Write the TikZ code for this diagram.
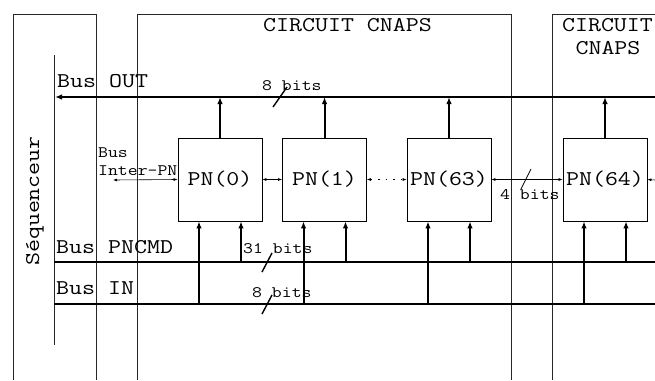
\documentclass[tikz,border=0pt]{standalone}
\usepackage{fontspec}
\setmainfont[FakeStretch=1.2]{Latin Modern Mono}
\usetikzlibrary{arrows.meta}
\tikzset{
  pn/.style={draw, line width=0.8pt, minimum width=84pt, minimum height=83pt, inner sep=0pt, font=\fontsize{21}{22}\selectfont},
  bus/.style={line width=2pt},
  upar/.style={line width=2pt, -{Latex[length=7pt,width=5.5pt]}},
  link/.style={line width=0.6pt, {Latex[length=4pt,width=3pt]}-{Latex[length=4pt,width=3pt]}},
  frame/.style={line width=0.8pt, black!85},
  bitmark/.style={line width=1.4pt},
  big/.style={inner sep=0pt, font=\fontsize{21}{22}\selectfont},
  small/.style={inner sep=0pt, font=\fontsize{16}{17}\selectfont},
}
\begin{document}
\begin{tikzpicture}[x=1pt,y=-1pt]
  \useasboundingbox (0,0) rectangle (655,380);
  % Sequencer and circuit frames
  \draw[frame] (13,380) -- (13,14) -- (96,14) -- (96,380);
  \draw[frame] (137,380) -- (137,14) -- (511,14) -- (511,380);
  \draw[frame] (552,380) -- (552,14) -- (660,14);
  \draw[frame] (54,55) -- (54,345);
  \node[big,rotate=90] (seq) at (35,201) {Séquenceur};
  \node[big,anchor=base] (cn1) at (347.5,31) {CIRCUIT CNAPS};
  \node[big,anchor=base] (cn2a) at (607.5,31) {CIRCUIT};
  \node[big,anchor=base] (cn2b) at (608,54) {CNAPS};
  % Buses
  \coordinate (outL) at (55,97);  \coordinate (outR) at (655,97);
  \coordinate (cmdL) at (54,262); \coordinate (cmdR) at (655,262);
  \coordinate (inL) at (54,304);  \coordinate (inR) at (655,304);
  \draw[bus,-{Latex[length=7pt,width=5.5pt]}] (outR) -- (outL);
  \draw[bus] (cmdL) -- (cmdR);
  \draw[bus] (inL) -- (inR);
  \node[big,anchor=base west] (lout) at (57,87) {Bus OUT};
  \node[big,anchor=base west] (lcmd) at (56,253) {Bus PNCMD};
  \node[big,anchor=base west] (lin) at (56,294) {Bus IN};
  % Processing nodes
  \node[pn] (pn0) at (220,179.5) {PN(0)};
  \node[pn] (pn1) at (324.5,179.5) {PN(1)};
  \node[pn] (pn63) at (449,179.5) {PN(63)};
  \node[pn] (pn64) at (605,179.5) {PN(64)};
  % Outputs to Bus OUT
  \draw[upar] (pn0.north) -- (pn0.north |- outR);
  \draw[upar] (pn1.north) -- (pn1.north |- outR);
  \draw[upar] (pn63.north) -- (pn63.north |- outR);
  \draw[upar] (pn64.north) -- (pn64.north |- outR);
  % Inputs from Bus IN and Bus PNCMD
  \draw[upar] ([xshift=-21pt]pn0.south |- inR) -- ([xshift=-21pt]pn0.south);
  \draw[upar] ([xshift=21pt]pn0.south |- cmdR) -- ([xshift=21pt]pn0.south);
  \draw[upar] ([xshift=-21pt]pn1.south |- inR) -- ([xshift=-21pt]pn1.south);
  \draw[upar] ([xshift=21pt]pn1.south |- cmdR) -- ([xshift=21pt]pn1.south);
  \draw[upar] ([xshift=-21pt]pn63.south |- inR) -- ([xshift=-21pt]pn63.south);
  \draw[upar] ([xshift=21pt]pn63.south |- cmdR) -- ([xshift=21pt]pn63.south);
  \draw[upar] ([xshift=-21pt]pn64.south |- inR) -- ([xshift=-21pt]pn64.south);
  \draw[upar] ([xshift=21pt]pn64.south |- cmdR) -- ([xshift=21pt]pn64.south);
  % Inter-PN bus
  \coordinate (ipn) at (113,180);
  \coordinate (ipnR) at (655,180);
  \draw[link] (ipn) -- (pn0.west);
  \draw[link] (pn0.east) -- (pn1.west);
  \draw[link,dash pattern=on 1.5pt off 6pt] (pn1.east) -- (pn63.west);
  \draw[link] (pn63.east) -- (pn64.west);
  \draw[line width=0.6pt,-{Latex[length=4pt,width=3pt]}] (ipnR) -- (pn64.east);
  \node[small,anchor=base west] (lbus) at (98,157) {Bus};
  \node[small,anchor=base west] (lipn) at (98,175) {Inter-PN};
  % Bus widths
  \draw[bitmark] (273,107) -- (287,87);
  \node[small,anchor=base west] (b8o) at (262,90) {8 bits};
  \draw[bitmark] (262,272) -- (272,253);
  \node[small,anchor=base west] (b31) at (243,253) {31 bits};
  \draw[bitmark] (262,314) -- (272,295);
  \node[small,anchor=base west] (b8i) at (252,297) {8 bits};
  \draw[line width=0.8pt] (521,189) -- (531,169);
  \node[small,anchor=base west] (b4) at (500,199) {4 bits};
\end{tikzpicture}
\end{document}
